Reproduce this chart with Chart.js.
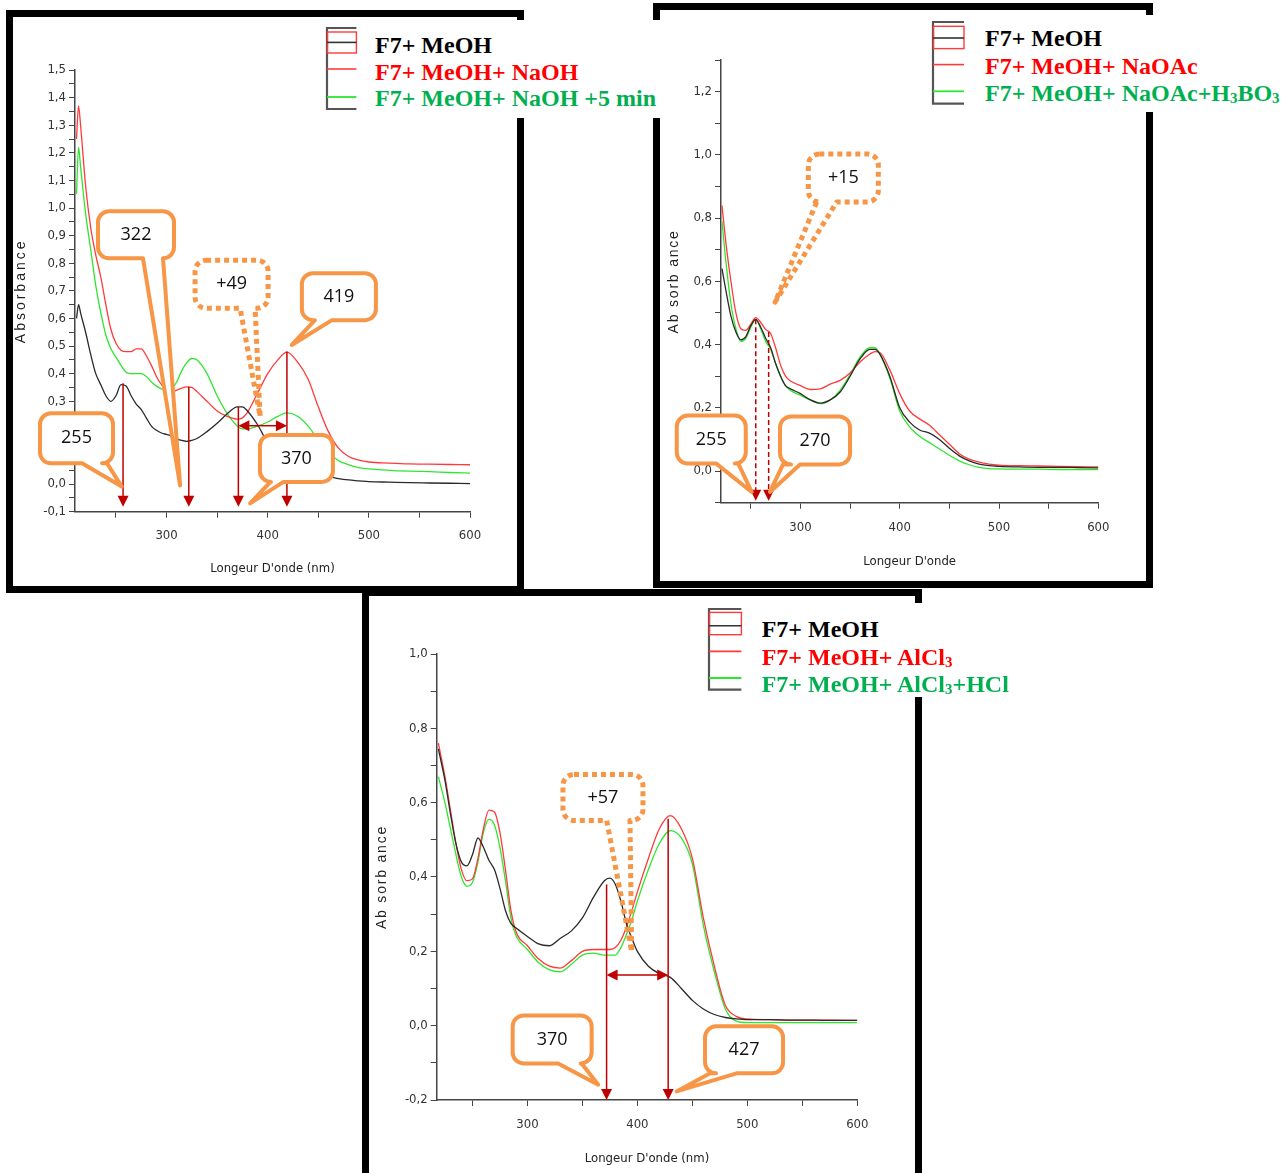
<!DOCTYPE html>
<html><head><meta charset="utf-8">
<script src="https://cdn.jsdelivr.net/npm/chart.js@4.4.1/dist/chart.umd.min.js"></script>
<style>
html,body{margin:0;padding:0;background:#fff}
body{width:1283px;height:1173px;overflow:hidden;position:relative}
.frame{position:absolute;border:7px solid #000;box-sizing:border-box;background:#fff}
canvas{position:absolute}
.lgbox{position:absolute;background:#fff}
.lg{position:absolute;font-family:'Liberation Serif','Times New Roman',serif;font-weight:bold;font-size:24px;line-height:27px;white-space:nowrap}
.lg sub{font-size:0.62em;vertical-align:-0.12em;line-height:0}
svg{position:absolute;overflow:visible}
</style></head>
<body>
<div class="frame" style="left:6px;top:10px;width:518px;height:583px"></div>
<div class="frame" style="left:653px;top:3px;width:500px;height:585px"></div>
<div class="frame" style="left:362px;top:589px;width:560px;height:600px"></div>
<canvas id="c1"></canvas>
<canvas id="c2"></canvas>
<canvas id="c3"></canvas>
<div id="legends"></div>
<script>
// ---------------- DATA ----------------
// Panel 1 : F7 + MeOH / + NaOH / + NaOH +5 min
const wl1 = [211,213,215,220,225,230,235,240,245,250,255,260,265,270,275,280,285,290,295,300,305,310,315,320,325,330,340,350,360,370,375,380,390,400,410,419,430,440,450,460,470,480,490,500,520,540,560,580,600];
const p1MeOH = [0.60,0.65,0.62,0.55,0.47,0.40,0.36,0.32,0.30,0.32,0.36,0.355,0.32,0.29,0.27,0.24,0.21,0.195,0.185,0.18,0.175,0.165,0.158,0.155,0.158,0.165,0.19,0.22,0.255,0.28,0.28,0.265,0.215,0.15,0.11,0.085,0.06,0.046,0.036,0.028,0.02,0.015,0.012,0.009,0.007,0.005,0.004,0.003,0.002];
const p1NaOH = [1.25,1.37,1.30,1.08,0.93,0.83,0.75,0.65,0.56,0.51,0.485,0.48,0.48,0.49,0.49,0.465,0.43,0.39,0.36,0.34,0.335,0.34,0.348,0.352,0.35,0.335,0.30,0.265,0.245,0.235,0.24,0.26,0.33,0.40,0.45,0.478,0.44,0.38,0.28,0.19,0.13,0.10,0.087,0.08,0.076,0.073,0.072,0.071,0.07];
const p1NaOH5 = [1.05,1.22,1.15,0.98,0.85,0.72,0.62,0.54,0.49,0.46,0.43,0.405,0.40,0.40,0.40,0.39,0.37,0.355,0.345,0.34,0.345,0.37,0.41,0.44,0.455,0.45,0.40,0.32,0.255,0.21,0.20,0.20,0.21,0.225,0.245,0.258,0.245,0.21,0.16,0.115,0.085,0.07,0.06,0.055,0.05,0.047,0.045,0.042,0.04];
const p1Names = ['F7+ MeOH','F7+ MeOH+ NaOH','F7+ MeOH+ NaOH +5 min'];
const p1PeakWl = [257,322,371,419];
const p1PeakAbs = [0.365,0.353,0.28,0.48];
const p1Shift = {from:371, to:419, level:0.2115};
const p1Labels = ['255','322','+49','419','370'];

// Panel 2 : F7 + MeOH / + NaOAc / + NaOAc + H3BO3
const wl2 = [221,225,230,235,240,245,250,255,260,265,270,275,280,285,290,300,310,320,330,340,350,360,370,375,380,390,400,410,420,430,440,450,460,470,480,490,500,520,540,560,580,600];
const p2MeOH = [0.64,0.57,0.49,0.44,0.415,0.425,0.46,0.48,0.455,0.42,0.39,0.34,0.30,0.27,0.26,0.245,0.225,0.215,0.225,0.25,0.30,0.355,0.385,0.385,0.37,0.30,0.20,0.155,0.13,0.12,0.10,0.072,0.048,0.032,0.022,0.017,0.015,0.013,0.012,0.012,0.011,0.01];
const p2NaOAc = [0.84,0.72,0.60,0.50,0.45,0.445,0.465,0.485,0.47,0.448,0.435,0.39,0.335,0.30,0.285,0.27,0.258,0.26,0.275,0.287,0.31,0.345,0.37,0.378,0.375,0.32,0.245,0.19,0.165,0.145,0.115,0.085,0.055,0.038,0.028,0.022,0.019,0.017,0.016,0.015,0.014,0.013];
const p2Boric = [0.79,0.66,0.53,0.45,0.41,0.42,0.455,0.48,0.45,0.41,0.385,0.34,0.30,0.27,0.255,0.24,0.225,0.213,0.225,0.255,0.305,0.36,0.39,0.39,0.37,0.295,0.19,0.14,0.11,0.09,0.07,0.05,0.032,0.02,0.012,0.008,0.007,0.006,0.006,0.005,0.005,0.005];
const p2Names = ['F7+ MeOH','F7+ MeOH+ NaOAc','F7+ MeOH+ NaOAc+H<sub>3</sub>BO<sub>3</sub>'];
const p2PeakWl = [255,268];
const p2PeakAbs = [0.48,0.44];
const p2Labels = ['+15','255','270'];

// Panel 3 : F7 + MeOH / + AlCl3 / + AlCl3 + HCl
const wl3 = [219,225,230,235,240,245,250,255,260,265,270,275,280,285,290,300,310,320,330,340,350,360,370,375,380,385,390,395,400,410,420,430,440,450,460,470,480,490,500,520,540,560,580,600];
const p3MeOH = [0.745,0.66,0.57,0.49,0.44,0.43,0.46,0.505,0.48,0.445,0.42,0.37,0.31,0.275,0.262,0.24,0.22,0.215,0.235,0.255,0.29,0.345,0.39,0.397,0.38,0.335,0.275,0.235,0.20,0.16,0.14,0.13,0.10,0.068,0.045,0.03,0.022,0.018,0.016,0.016,0.015,0.015,0.014,0.014];
const p3AlCl3 = [0.76,0.67,0.58,0.49,0.42,0.39,0.395,0.45,0.53,0.58,0.575,0.52,0.42,0.31,0.25,0.215,0.18,0.16,0.155,0.175,0.20,0.205,0.205,0.205,0.21,0.23,0.265,0.31,0.36,0.45,0.53,0.565,0.53,0.45,0.29,0.16,0.055,0.025,0.018,0.016,0.015,0.015,0.015,0.014];
const p3HCl = [0.67,0.60,0.53,0.46,0.40,0.375,0.385,0.44,0.52,0.555,0.54,0.48,0.39,0.29,0.24,0.205,0.17,0.15,0.145,0.165,0.19,0.195,0.19,0.19,0.19,0.21,0.245,0.285,0.335,0.42,0.49,0.525,0.505,0.435,0.27,0.145,0.045,0.012,0.008,0.008,0.008,0.008,0.008,0.008];
const p3Names = ['F7+ MeOH','F7+ MeOH+ AlCl<sub>3</sub>','F7+ MeOH+ AlCl<sub>3</sub>+HCl'];
const p3PeakWl = [372,428];
const p3PeakAbs = [0.38,0.557];
const p3Shift = {from:372, to:428, level:0.136};
const p3Labels = ['+57','370','427'];

// ---------------- STYLE / LAYOUT ----------------
const LINE_COLORS = ['#2a2a2a','#ff3a3a','#2fe62f'];
const TEXT_COLORS = ['#000000','#ff0000','#00b050'];
const AX_FONT = "'Liberation Sans Narrow','Arial Narrow','DejaVu Sans Condensed',sans-serif";
const AX_SIZE = 13;
const ORANGE = '#f79646';
const ARROW = '#c00000';

function head(ctx, tx, ty, dx, dy, len, half){
  const bx = tx - dx*len, by = ty - dy*len;
  ctx.beginPath(); ctx.moveTo(tx,ty);
  ctx.lineTo(bx - dy*half, by + dx*half);
  ctx.lineTo(bx + dy*half, by - dx*half);
  ctx.closePath(); ctx.fill();
}
function callout(ctx, c, X, Y){
  const cx = X(c.cx), cy = Y(c.cy);
  const x0 = cx - c.w/2, y0 = cy - c.h/2, w = c.w, h = c.h, r = 11;
  const tx = X(c.tx), ty = Y(c.ty);
  ctx.save();
  ctx.beginPath();
  ctx.moveTo(x0+r, y0);
  ctx.lineTo(x0+w-r, y0); ctx.arcTo(x0+w, y0, x0+w, y0+r, r);
  ctx.lineTo(x0+w, y0+h-r); ctx.arcTo(x0+w, y0+h, x0+w-r, y0+h, r);
  ctx.lineTo(cx+c.b2, y0+h); ctx.lineTo(tx, ty); ctx.lineTo(cx+c.b1, y0+h);
  ctx.lineTo(x0+r, y0+h); ctx.arcTo(x0, y0+h, x0, y0+h-r, r);
  ctx.lineTo(x0, y0+r); ctx.arcTo(x0, y0, x0+r, y0, r);
  ctx.closePath();
  if (!c.dotted){ ctx.fillStyle = '#fff'; ctx.fill(); }
  ctx.strokeStyle = ORANGE;
  ctx.lineJoin = 'round';
  if (c.dotted){ ctx.lineWidth = 5; ctx.setLineDash([5,4]); } else { ctx.lineWidth = 4; }
  ctx.stroke();
  ctx.setLineDash([]);
  ctx.fillStyle = '#111';
  ctx.font = "18px 'Open Sans', sans-serif";
  ctx.textAlign = 'center'; ctx.textBaseline = 'middle';
  ctx.fillText(c.text, cx, cy);
  ctx.restore();
}
const annotPlugin = {
  id: 'annot',
  beforeDraw(chart, args, o){
    const s = chart.scales.y;
    if (s && !s._lsPatched){
      const orig = s.drawTitle;
      s.drawTitle = function(){ const c = this.ctx; c.save(); c.letterSpacing = (o.yLS||0)+'px'; orig.call(this); c.restore(); };
      s._lsPatched = true;
    }
  },
  afterDatasetsDraw(chart, args, o){
    const {ctx} = chart; const xs = chart.scales.x, ys = chart.scales.y;
    const X = v => xs.getPixelForValue(v), Y = v => ys.getPixelForValue(v);
    const axisY = ys.getPixelForValue(ys.min);
    ctx.save();
    ctx.strokeStyle = ARROW; ctx.fillStyle = ARROW; ctx.lineWidth = 1.5;
    (o.arrows||[]).forEach(a => {
      const px = X(a.x), top = Y(a.y), tip = axisY - o.gap;
      ctx.setLineDash(o.dashed ? [5,3] : []);
      ctx.beginPath(); ctx.moveTo(px, top); ctx.lineTo(px, tip-9); ctx.stroke();
      ctx.setLineDash([]);
      head(ctx, px, tip, 0, 1, 11, 5.5);
    });
    if (o.span){
      const y = Y(o.span.level), a = X(o.span.from), b = X(o.span.to);
      ctx.beginPath(); ctx.moveTo(a+9, y); ctx.lineTo(b-9, y); ctx.stroke();
      head(ctx, a, y, -1, 0, 11, 5.5);
      head(ctx, b, y, 1, 0, 11, 5.5);
    }
    ctx.restore();
    (o.callouts||[]).forEach(c => callout(ctx, c, X, Y));
  }
};

function fmt(v){ const s = (Math.round(v*10)/10).toFixed(1).replace('.', ','); return s === '-0,0' ? '0,0' : s; }

function build(P){
  const cv = document.getElementById(P.id);
  const c = P.canvas, a = P.area;
  cv.width = c.w; cv.height = c.h;
  cv.style.left = c.left + 'px'; cv.style.top = c.top + 'px';
  const lhX = AX_SIZE*1.2, lhY = 14*1.2;
  const Hx = P.xTitleOff + lhX/2;
  const pad = {left:0, top: a.t - c.top, right: c.left + c.w - a.r, bottom: c.top + c.h - a.b - Hx};
  const yW = a.l - c.left;
  const yTitlePad = P.yTitleX - c.left - lhY/2;
  const xt = []; for (let v = 250; v <= 600; v += 50) xt.push(v);
  const yt = []; for (let v = P.y.min; v <= P.y.max + 1e-9; v += P.y.step) yt.push(Math.round(v*1000)/1000);
  const isLab = v => { const q = v / P.y.labelEvery; return Math.abs(q - Math.round(q)) < 1e-6 && v >= P.y.labMin - 1e-9 && v <= P.y.labMax + 1e-9; };
  return new Chart(cv, {
    type: 'line',
    data: { datasets: P.series.map((s,i) => ({
      label: P.names[i].replace(/<[^>]+>/g,''),
      data: P.wl.map((x,j) => ({x, y: s[j]})),
      borderColor: LINE_COLORS[i], borderWidth: 1.3, pointRadius: 0,
      cubicInterpolationMode: 'monotone', fill: false
    })) },
    options: {
      responsive: false, animation: false, devicePixelRatio: 1,
      layout: { padding: pad },
      plugins: { legend: {display:false}, tooltip: {enabled:false},
        annot: P.ann },
      scales: {
        x: { type:'linear', position:'bottom', min:P.x.min, max:P.x.max,
          grid: {drawOnChartArea:false, drawTicks:true, tickLength:6, color:'#444', lineWidth:1},
          border: {display:true, color:'#444', width:1.5},
          ticks: {autoSkip:false, maxRotation:0, padding:P.xLabelPad, color:'#333',
            font:{family:AX_FONT, size:AX_SIZE}, callback: v => (v % 100 === 0 ? String(v) : '')},
          afterBuildTicks: s => { s.ticks = xt.map(v => ({value:v})); },
          afterFit: s => { s.height = Hx; },
          title: {display:true, text:P.xTitle, color:'#222', font:{family:AX_FONT, size:AX_SIZE}, padding:{top:0,bottom:0}}
        },
        y: { type:'linear', position:'left', min:P.y.min, max:P.y.max,
          grid: {drawOnChartArea:false, drawTicks:true, tickLength:6, color:'#444', lineWidth:1},
          border: {display:true, color:'#444', width:1.5},
          ticks: {autoSkip:false, padding:3, color:'#333', font:{family:AX_FONT, size:AX_SIZE},
            callback: v => (isLab(v) ? fmt(v) : '')},
          afterBuildTicks: s => { s.ticks = yt.map(v => ({value:v})); },
          afterFit: s => { s.width = yW; },
          title: {display:true, text:P.yTitle, color:'#222', font:{family:"'Liberation Sans',Arial,sans-serif", size:14}, padding:{top:yTitlePad,bottom:0}}
        }
      }
    },
    plugins: [annotPlugin]
  });
}

const panels = [
  { id:'c1', canvas:{left:13, top:17, w:504, h:568}, area:{l:75, r:470, t:70, b:511.7},
    x:{min:209.5, max:600}, y:{min:-0.1, max:1.5, step:0.05, labelEvery:0.1, labMin:-0.1, labMax:1.5},
    xTitle:"Longeur D'onde (nm)", yTitle:'Absorbance', xTitleOff:57.3, yTitleX:21.5, xLabelPad:10,
    wl:wl1, series:[p1MeOH,p1NaOH,p1NaOH5], names:p1Names,
    ann:{ yLS:3, gap:5, dashed:false,
      arrows: p1PeakWl.map((x,i) => ({x, y:p1PeakAbs[i]})),
      span: p1Shift,
      callouts: [
        {text:p1Labels[0], cx:211, cy:0.166, w:73, h:50, b1:5.5, b2:30.5, tx:255.7, ty:-0.009},
        {text:p1Labels[1], cx:269.8, cy:0.903, w:76, h:47, b1:7, b2:27, tx:313.4, ty:-0.005},
        {text:p1Labels[2], dotted:true, cx:364.3, cy:0.724, w:73, h:48, b1:8.5, b2:23.5, tx:392.5, ty:0.245},
        {text:p1Labels[3], cx:470.4, cy:0.679, w:74, h:47, b1:-24, b2:-7, tx:423.8, ty:0.504},
        {text:p1Labels[4], cx:428.4, cy:0.093, w:73, h:47, b1:-26, b2:-13, tx:382.6, ty:-0.07}
      ] } },
  { id:'c2', canvas:{left:660, top:10, w:486, h:571}, area:{l:721, r:1098.3, t:60, b:502.7},
    x:{min:220, max:600}, y:{min:-0.1, max:1.3, step:0.1, labelEvery:0.2, labMin:0, labMax:1.2},
    xTitle:"Longeur D'onde", yTitle:'Ab sorb ance', xTitleOff:59, yTitleX:674, xLabelPad:11,
    wl:wl2, series:[p2MeOH,p2NaOAc,p2Boric], names:p2Names,
    ann:{ yLS:1.8, gap:2, dashed:true,
      arrows: p2PeakWl.map((x,i) => ({x, y:p2PeakAbs[i]})),
      callouts: [
        {text:p2Labels[0], dotted:true, cx:343.2, cy:0.927, w:70, h:48, b1:-26.6, b2:-6.6, tx:274.4, ty:0.534},
        {text:p2Labels[1], cx:210.2, cy:0.0995, w:69, h:48, b1:5, b2:27, tx:250.9, ty:-0.066},
        {text:p2Labels[2], cx:314.7, cy:0.097, w:70, h:48, b1:-32, b2:-15, tx:269.3, ty:-0.066}
      ] } },
  { id:'c3', canvas:{left:369, top:596, w:546, h:577}, area:{l:436.7, r:857.3, t:654, b:1100},
    x:{min:217.5, max:600}, y:{min:-0.2, max:1.0, step:0.1, labelEvery:0.2, labMin:-0.2, labMax:1.0},
    xTitle:"Longeur D'onde (nm)", yTitle:'Ab sorb ance', xTitleOff:58.3, yTitleX:382.5, xLabelPad:10.5,
    wl:wl3, series:[p3MeOH,p3AlCl3,p3HCl], names:p3Names,
    ann:{ yLS:1.8, gap:0, dashed:false,
      arrows: p3PeakWl.map((x,i) => ({x, y:p3PeakAbs[i]})),
      span: p3Shift,
      callouts: [
        {text:p3Labels[0], dotted:true, cx:368.7, cy:0.614, w:80, h:46, b1:3.7, b2:27, tx:394.8, ty:0.199},
        {text:p3Labels[1], cx:322.5, cy:-0.037, w:79, h:48, b1:6, b2:29.5, tx:364.4, ty:-0.159},
        {text:p3Labels[2], cx:497, cy:-0.065, w:78, h:47, b1:-34, b2:-7.5, tx:435.7, ty:-0.177}
      ] } }
];
panels.forEach(build);

// ---------------- LEGENDS ----------------
const legends = [
  { box:{left:320, top:20, w:342, h:98}, names:p1Names, textX:375, centers:[45.8,72.3,99],
    s:{l:327.3, r:356.7, top:28.3, rt:32.3, rb:53.3, k:42.7, red:69.3, green:97.3, bot:109.3} },
  { box:{left:926, top:15, w:357, h:97}, names:p2Names, textX:985, centers:[39,66.3,93.7],
    s:{l:933.3, r:964.3, top:21.7, rt:26, rb:48.3, k:37.7, red:64.3, green:91, bot:103.3} },
  { box:{left:703, top:603, w:312, h:94}, names:p3Names, textX:761.7, centers:[630,657.3,685],
    s:{l:709.3, r:741.7, top:609.3, rt:612.7, rb:635, k:626, red:651.7, green:678.3, bot:690} }
];
const host = document.getElementById('legends');
legends.forEach(L => {
  const b = document.createElement('div');
  b.className = 'lgbox';
  b.style.cssText = `left:${L.box.left}px;top:${L.box.top}px;width:${L.box.w}px;height:${L.box.h}px`;
  host.appendChild(b);
  const s = L.s, ox = s.l - 2, oy = s.top - 2;
  const X = v => (v - ox).toFixed(1), Y = v => (v - oy).toFixed(1);
  const svg = `<svg style="left:${ox}px;top:${oy}px" width="${s.r-ox+2}" height="${s.bot-oy+2}">
    <path d="M${X(s.r)} ${Y(s.top)} H${X(s.l)} V${Y(s.bot)} H${X(s.r)}" fill="none" stroke="#555" stroke-width="2.2"/>
    <rect x="${X(s.l+0.5)}" y="${Y(s.rt)}" width="${(s.r-s.l-0.5).toFixed(1)}" height="${(s.rb-s.rt).toFixed(1)}" fill="none" stroke="#ff3a3a" stroke-width="1.4"/>
    <line x1="${X(s.l)}" x2="${X(s.r)}" y1="${Y(s.k)}" y2="${Y(s.k)}" stroke="#333" stroke-width="1.6"/>
    <line x1="${X(s.l)}" x2="${X(s.r)}" y1="${Y(s.red)}" y2="${Y(s.red)}" stroke="#ff3a3a" stroke-width="1.6"/>
    <line x1="${X(s.l)}" x2="${X(s.r)}" y1="${Y(s.green)}" y2="${Y(s.green)}" stroke="#2fe62f" stroke-width="1.8"/>
  </svg>`;
  host.insertAdjacentHTML('beforeend', svg);
  L.names.forEach((n,i) => {
    const d = document.createElement('div');
    d.className = 'lg';
    d.style.cssText = `left:${L.textX}px;top:${(L.centers[i]-13.6).toFixed(1)}px;color:${TEXT_COLORS[i]}`;
    d.innerHTML = n;
    host.appendChild(d);
  });
});
</script>
</body></html>
